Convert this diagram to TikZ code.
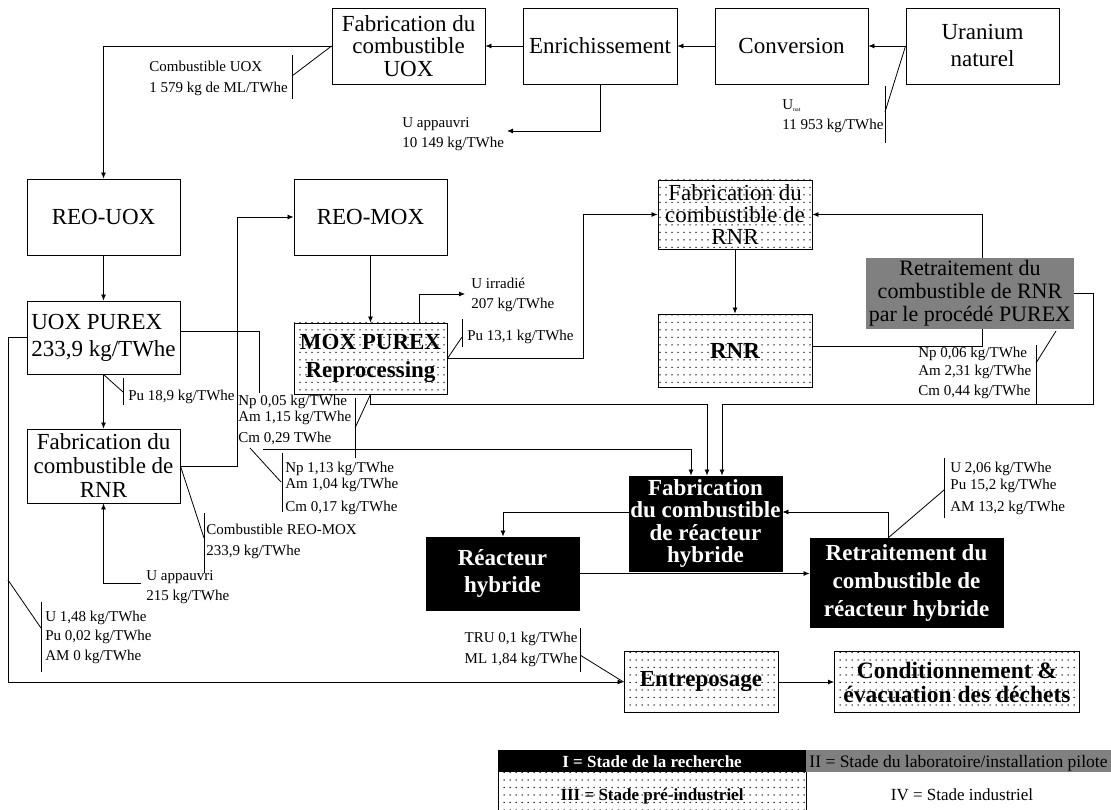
\documentclass[tikz,border=0pt]{standalone}
\usepackage{fontspec}
\setmainfont{Liberation Serif}
\usetikzlibrary{arrows.meta,patterns.meta}

% fine dot grid used for the pre-industrial stage boxes
\pgfdeclarepattern{
  name=dotgrid,
  type=uncolored,
  bottom left={\pgfpoint{-1pt}{-1pt}},
  top right={\pgfpoint{5pt}{6.5pt}},
  tile size={\pgfpoint{6pt}{7.5pt}},
  code={\pgfpathcircle{\pgfpointorigin}{0.75pt}\pgfusepath{fill}}
}

\tikzset{
  box/.style={draw, line width=0.9pt, inner sep=0pt, align=center},
  sz/.style 2 args={minimum width=#1pt, minimum height=#2pt},
  reg/.style={font=\fontsize{23}{#1}\selectfont},
  bld/.style={font=\bfseries\fontsize{23}{#1}\selectfont},
  dotbox/.style={box, pattern=dotgrid, pattern color=black},
  blackbox/.style={box, fill=black, text=white},
  graybox/.style={inner sep=0pt, align=center, fill=black!50},
  arr/.style={-{Latex[length=6pt,width=5pt]}},
  lab/.style={anchor=west, inner sep=0pt, font=\fontsize{15}{18}\selectfont, text height=10pt, text depth=3pt},
  labr/.style={lab, anchor=east},
  cell/.style={inner sep=0pt, minimum width=308pt, text height=12pt, text depth=3.5pt},
}

\begin{document}
\begin{tikzpicture}[x=1pt, y=-1pt, line width=0.8pt]
\useasboundingbox (0,0) rectangle (1111,810);

% ---- front end of the cycle
\node[box, sz={153}{76}, reg=22.5] (fabuox) at (408.5,46) {Fabrication du\\combustible\\UOX};
\node[box, sz={154}{76}, reg=23] (enrich) at (600,46) {Enrichissement};
\node[box, sz={153}{76}, reg=23] (conv) at (791.5,46) {Conversion};
\node[box, sz={153}{76}, reg=27] (unat) at (982.5,46) {Uranium\\naturel};

% ---- light water reactors and reprocessing
\node[box, sz={153}{76}, reg=23] (reouox) at (103.5,217) {REO-UOX};
\node[box, sz={153}{76}, reg=23] (reomox) at (370.5,217) {REO-MOX};
\node[box, sz={153}{73}, reg=27, align=left] (uoxpurex) at (103.5,337.5) {UOX PUREX\\233,9 kg/TWhe};
\node[box, sz={153}{74}, reg=24] (fabrnrL) at (103.5,466) {Fabrication du\\combustible de\\RNR};
\node[dotbox, sz={153}{71}, bld=28] (moxpurex) at (370.5,358.5) {MOX PUREX\\Reprocessing};

% ---- fast reactor line
\node[dotbox, sz={154}{69}, reg=22] (fabrnrR) at (735,214.5) {Fabrication du\\combustible de\\RNR};
\node[dotbox, sz={154}{73}, bld=23] (rnr) at (735,350.5) {RNR};
\node[graybox, sz={208}{71}, font=\fontsize{22}{23}\selectfont] (retrnr) at (970,293.5) {Retraitement du\\combustible de RNR\\par le procédé PUREX};

% ---- hybrid reactor line
\node[blackbox, sz={153}{95}, bld=22.5] (fabhyb) at (705.5,523.5) {Fabrication\\du combustible\\de réacteur\\hybride};
\node[blackbox, sz={153}{73}, bld=27] (reachyb) at (502.5,573.5) {Réacteur\\hybride};
\node[blackbox, sz={193}{89}, bld=28] (rethyb) at (906.5,582.5) {Retraitement du\\combustible de\\réacteur hybride};

% ---- back end
\node[dotbox, sz={154}{61}, bld=23] (entrep) at (701,682) {Entreposage};
\node[dotbox, sz={245}{61}, font=\bfseries\fontsize{23.5}{24}\selectfont] (cond) at (957,682) {Conditionnement \&\\évacuation des déchets};

% ---- bend points
\coordinate (ua1) at (600,131);
\coordinate (ua2) at (507,131);
\coordinate (k1) at (103.5,46);
\coordinate (m1) at (237,466);
\coordinate (m2) at (237,217);
\coordinate (p1) at (259,331);
\coordinate (p2) at (259,393);
\coordinate (q0) at (263,449);
\coordinate (q1) at (691,449);
\coordinate (r1) at (370.5,404);
\coordinate (r2) at (707,404);
\coordinate (s1) at (1093,293.5);
\coordinate (s2) at (1093,404);
\coordinate (s3) at (722,404);
\coordinate (t1) at (583,358.5);
\coordinate (t2) at (583,214.5);
\coordinate (v1) at (982,258);
\coordinate (v2) at (982,214.5);
\coordinate (w0) at (812,346);
\coordinate (w1) at (982,346);
\coordinate (w2) at (982,329);
\coordinate (ui1) at (419,323);
\coordinate (ui2) at (419,294);
\coordinate (ui3) at (465,294);
\coordinate (ub1) at (141,583);
\coordinate (ub2) at (103.5,583);
\coordinate (lp1) at (8,337.5);
\coordinate (lp2) at (8,682);
\coordinate (h1) at (503,512);
\coordinate (h2) at (888,538);
\coordinate (h3) at (888,512);

% ---- flows
\draw[arr] (unat.west) -- (conv.east);
\draw[arr] (conv.west) -- (enrich.east);
\draw[arr] (enrich.west) -- (fabuox.east);
\draw[arr] (enrich.south) -- (ua1) -- (ua2);
\draw[arr] (fabuox.west) -- (k1) -- (reouox.north);
\draw[arr] (reouox.south) -- (uoxpurex.north);
\draw[arr] (uoxpurex.south) -- (fabrnrL.north);
\draw[arr] (fabrnrL.east) -- (m1) -- (m2) -- (reomox.west);
\draw[arr] (reomox.south) -- (moxpurex.north);
\draw (uoxpurex.east |- p1) -- (p1) -- (p2);
\draw[arr] (q0) -- (q1) -- (q1 |- fabhyb.north);
\draw[arr] (moxpurex.south) -- (r1) -- (r2) -- (r2 |- fabhyb.north);
\draw[arr] (retrnr.east) -- (s1) -- (s2) -- (s3) -- (s3 |- fabhyb.north);
\draw[arr] (moxpurex.east) -- (t1) -- (t2) -- (fabrnrR.west);
\draw[arr] (v1) -- (v2) -- (fabrnrR.east);
\draw (w0) -- (w1) -- (w2);
\draw[arr] (fabrnrR.south) -- (rnr.north);
\draw[arr] (ui1) -- (ui2) -- (ui3);
\draw[arr] (ub1) -- (ub2) -- (fabrnrL.south);
\draw[arr] (uoxpurex.west) -- (lp1) -- (lp2) -- (entrep.west);
\draw[arr] (entrep.east) -- (cond.west);
\draw[arr] (fabhyb.west |- h1) -- (h1) -- (h1 |- reachyb.north);
\draw[arr] (reachyb.east) -- (reachyb.east -| rethyb.west);
\draw[arr] (h2) -- (h3) -- (h3 -| fabhyb.east);

% ---- callout leaders and ticks
\draw (fabuox.west) -- (292,76);        \draw (292,55) -- (292,99);
\draw (unat.west) -- (885,112);         \draw (885,86) -- (885,143);
\draw (uoxpurex.south) -- (123,392);    \draw (123,378) -- (123,405);
\draw (moxpurex.east) -- (462,337);     \draw (462,319) -- (462,347);
\draw (moxpurex.south) -- (355,428);    \draw (355,398) -- (355,458);
\draw (250,448) -- (281,482);           \draw (282,453) -- (282,512);
\draw (fabrnrL.east) -- (204,538);      \draw (204,513) -- (204,573);
\draw (8,580) -- (41,628);              \draw (41,602) -- (41,672);
\draw (1056,331) -- (1036,363);         \draw (1036,345) -- (1036,405);
\draw (h2) -- (944,490);                \draw (944,458) -- (944,518);
\draw (580,655) -- (entrep.west);       \draw (580,628) -- (580,672);

% ---- quantities
\node[lab] (l1) at (149,68) {Combustible UOX};
\node[lab] (l2) at (149,89) {1 579 kg de ML/TWhe};
\node[lab] (l3) at (402,124) {U appauvri};
\node[lab] (l4) at (402,144) {10 149 kg/TWhe};
\node[lab] (l5) at (782,106) {U\raisebox{-2.5pt}{\fontsize{6}{6}\selectfont nat}};
\node[lab] (l6) at (782,126) {11 953 kg/TWhe};
\node[lab] (l7) at (128,397) {Pu 18,9 kg/TWhe};
\node[lab] (l8) at (238,402) {Np 0,05 kg/TWhe};
\node[lab] (l9) at (238,418) {Am 1,15 kg/TWhe};
\node[lab] (l10) at (238,439) {Cm 0,29 TWhe};
\node[lab] (l11) at (471,285) {U irradié};
\node[lab] (l12) at (471,305) {207 kg/TWhe};
\node[lab] (l13) at (467,337) {Pu 13,1 kg/TWhe};
\node[lab] (l14) at (285,469) {Np 1,13 kg/TWhe};
\node[lab] (l15) at (285,485) {Am 1,04 kg/TWhe};
\node[lab] (l16) at (285,508) {Cm 0,17 kg/TWhe};
\node[lab] (l17) at (206,531) {Combustible REO-MOX};
\node[lab] (l18) at (206,552) {233,9 kg/TWhe};
\node[lab] (l19) at (146,577) {U appauvri};
\node[lab] (l20) at (146,597) {215 kg/TWhe};
\node[lab] (l21) at (45,618) {U 1,48 kg/TWhe};
\node[lab] (l22) at (45,637) {Pu 0,02 kg/TWhe};
\node[lab] (l23) at (45,657) {AM 0 kg/TWhe};
\node[lab] (l24) at (918,354) {Np 0,06 kg/TWhe};
\node[lab] (l25) at (918,372) {Am 2,31 kg/TWhe};
\node[lab] (l26) at (918,392) {Cm 0,44 kg/TWhe};
\node[lab] (l27) at (950,469) {U 2,06 kg/TWhe};
\node[lab] (l28) at (950,486) {Pu 15,2 kg/TWhe};
\node[lab] (l29) at (950,508) {AM 13,2 kg/TWhe};
\node[labr] (l30) at (578,639) {TRU 0,1 kg/TWhe};
\node[labr] (l31) at (578,660) {ML 1,84 kg/TWhe};

% ---- legend of development stages
\fill[black] (498,750) rectangle (806,772);
\fill[black!50] (806,750) rectangle (1111,772);
\fill[pattern=dotgrid, pattern color=black] (498,772) rectangle (806,811);
\draw[line width=0.9pt] (498,772) -- (498,811) (806,772) -- (806,811);
\node[cell, text=white, font=\bfseries\fontsize{17}{17}\selectfont] (lg1) at (652,763) {I = Stade de la recherche};
\node[cell, font=\fontsize{17.5}{17.5}\selectfont] (lg2) at (958.5,763) {II = Stade du laboratoire/installation pilote};
\node[cell, font=\bfseries\fontsize{17}{17}\selectfont] (lg3) at (652,796) {III = Stade pré-industriel};
\node[cell, font=\fontsize{17}{17}\selectfont] (lg4) at (962,796) {IV = Stade industriel};
\end{tikzpicture}
\end{document}
